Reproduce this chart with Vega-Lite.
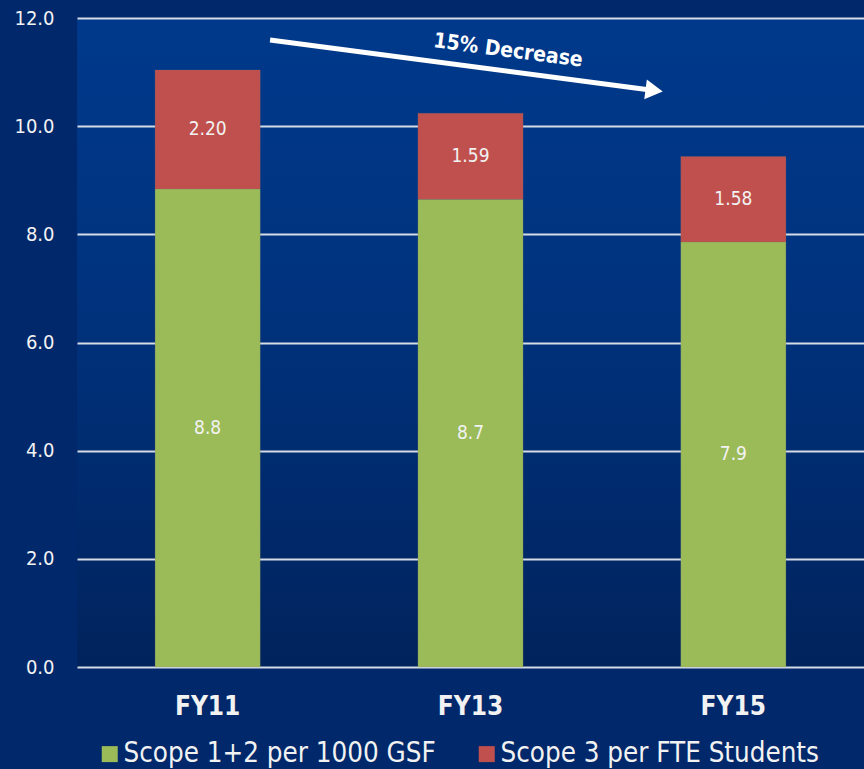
{
  "$schema": "https://vega.github.io/schema/vega-lite/v6.json",
  "width": 787,
  "height": 649,
  "autosize": {"type": "none"},
  "padding": {"left": 77, "top": 18, "right": 0, "bottom": 102},
  "background": "#01286A",
  "config": {
    "font": "DejaVu Sans Condensed, Roboto",
    "view": {"stroke": null, "fill": {"gradient": "linear", "x1": 0, "y1": 0, "x2": 0, "y2": 1, "stops": [{"offset": 0, "color": "#00398B"}, {"offset": 0.4, "color": "#00337F"}, {"offset": 0.75, "color": "#002A6C"}, {"offset": 1, "color": "#01235C"}]}},
    "axis": {"labelFont": "DejaVu Sans Condensed, Roboto", "labelColor": "#F2F2F2"},
    "legend": {"labelFont": "DejaVu Sans Condensed, Roboto", "padding": 0}
  },
  "datasets": {
    "bars": [
      {"year": "FY11", "series": "Scope 1+2 per 1000 GSF", "value": 8.84, "label": "8.8", "ord": 1},
      {"year": "FY11", "series": "Scope 3 per FTE Students", "value": 2.2, "label": "2.20", "ord": 2},
      {"year": "FY13", "series": "Scope 1+2 per 1000 GSF", "value": 8.65, "label": "8.7", "ord": 1},
      {"year": "FY13", "series": "Scope 3 per FTE Students", "value": 1.59, "label": "1.59", "ord": 2},
      {"year": "FY15", "series": "Scope 1+2 per 1000 GSF", "value": 7.86, "label": "7.9", "ord": 1},
      {"year": "FY15", "series": "Scope 3 per FTE Students", "value": 1.58, "label": "1.58", "ord": 2}
    ],
    "arrow": [
      {"x1": 0.736, "y1": 11.594, "x2": 2.2, "y2": 10.66, "text": "15% Decrease", "tx": 1.643, "ty": 11.39}
    ]
  },
  "resolve": {"scale": {"x": "independent"}},
  "layer": [
    {
      "data": {"name": "bars"},
      "layer": [
        {
          "mark": {"type": "bar", "stroke": "#7a7a7a", "strokeWidth": 0.4, "strokeOpacity": 0.5},
          "encoding": {
            "x": {
              "field": "year", "type": "nominal",
              "scale": {"paddingInner": 0.6, "paddingOuter": 0.297},
              "axis": {"title": null, "domain": false, "ticks": false, "labelAngle": 0, "labelFontSize": 26, "labelFontWeight": "bold", "labelPadding": 26, "labelColor": "#F2F2F2"}
            },
            "y": {
              "field": "value", "type": "quantitative", "stack": "zero",
              "scale": {"domain": [0, 12], "nice": false},
              "axis": {"title": null, "values": [0, 2, 4, 6, 8, 10, 12], "format": ".1f", "domain": false, "ticks": false, "labelFontSize": 20, "labelPadding": 23, "gridColor": "#D6DCE6", "gridWidth": 2, "gridOpacity": 1, "labelColor": "#F2F2F2"}
            },
            "color": {
              "field": "series", "type": "nominal",
              "scale": {"domain": ["Scope 1+2 per 1000 GSF", "Scope 3 per FTE Students"], "range": ["#9BBB59", "#C0504D"]},
              "legend": {
                "title": null, "orient": "none", "direction": "horizontal",
                "legendX": 19, "legendY": 722,
                "symbolType": "square", "symbolSize": 256, "symbolStrokeWidth": 0,
                "labelFontSize": 27.5, "labelColor": "#F2F2F2", "labelLimit": 500,
                "labelOffset": 0, "columnPadding": 37
              }
            },
            "order": {"field": "ord", "type": "quantitative"}
          }
        },
        {
          "transform": [
            {"stack": "value", "groupby": ["year"], "sort": [{"field": "ord"}], "as": ["v0", "v1"]},
            {"calculate": "(datum.v0 + datum.v1) / 2", "as": "mid"}
          ],
          "mark": {"type": "text", "color": "#F2F2F2", "fontSize": 19, "baseline": "middle", "font": "DejaVu Sans Condensed, Roboto"},
          "encoding": {
            "x": {"field": "year", "type": "nominal"},
            "y": {"field": "mid", "type": "quantitative"},
            "text": {"field": "label"}
          }
        }
      ]
    },
    {
      "data": {"name": "arrow"},
      "layer": [
        {
          "mark": {"type": "rule", "color": "white", "strokeWidth": 5},
          "encoding": {
            "x": {"field": "x1", "type": "quantitative", "scale": {"domain": [0, 3], "nice": false, "zero": false}, "axis": null},
            "y": {"field": "y1", "type": "quantitative"},
            "x2": {"field": "x2"},
            "y2": {"field": "y2"}
          }
        },
        {
          "mark": {"type": "point", "shape": "triangle-right", "filled": true, "color": "white", "opacity": 1, "size": 400, "angle": 7.5},
          "encoding": {
            "x": {"field": "x2", "type": "quantitative", "scale": {"domain": [0, 3], "nice": false, "zero": false}, "axis": null},
            "y": {"field": "y2", "type": "quantitative"}
          }
        },
        {
          "mark": {"type": "text", "color": "white", "fontSize": 21, "fontWeight": "bold", "angle": 7.5, "baseline": "middle", "font": "DejaVu Sans Condensed, Roboto"},
          "encoding": {
            "x": {"field": "tx", "type": "quantitative", "scale": {"domain": [0, 3], "nice": false, "zero": false}, "axis": null},
            "y": {"field": "ty", "type": "quantitative"},
            "text": {"field": "text"}
          }
        }
      ]
    }
  ]
}
